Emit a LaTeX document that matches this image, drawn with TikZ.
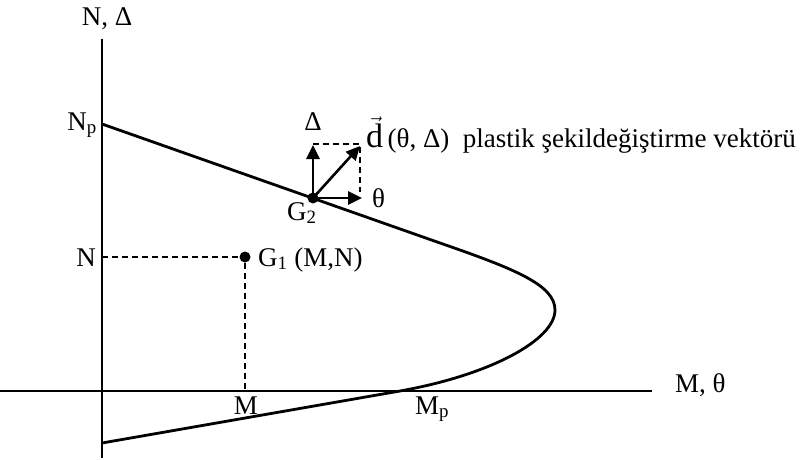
\documentclass[tikz,border=0pt]{standalone}
\usepackage{fontspec}
\setmainfont{Liberation Serif}
\usetikzlibrary{arrows.meta}

\begin{document}
\begin{tikzpicture}[x=1pt, y=-1pt,
    axis/.style={line width=1.1pt},
    curveLine/.style={line width=2.8pt, line join=round},
    guide/.style={line width=1.4pt, dash pattern=on 6pt off 4pt},
    vecArrow/.style={line width=2.6pt, -{Triangle[length=14pt, width=13pt]}},
    dot/.style={circle, fill=black, inner sep=0pt, minimum size=11pt},
    lbl/.style={font=\fontsize{27}{31}\selectfont, inner sep=0pt},
]
\useasboundingbox (0,0) rectangle (812,460);

% axes
\coordinate (yTop) at (102,39);
\coordinate (yBot) at (102,458);
\coordinate (xLeft) at (0,391);
\coordinate (xRight) at (652,391);
\draw[axis] (yBot) -- (yTop);
\draw[axis] (xLeft) -- (xRight);
\node[lbl, anchor=base] (nAxis) at (107,26) {N, Δ};
\node[lbl, anchor=base west] (mAxis) at (675,392) {M, θ};

% interaction curve
\coordinate (Np) at (102,124);
\coordinate (bendUp) at (440,243);
\coordinate (tip) at (555,310);
\coordinate (Mp) at (400,391);
\coordinate (lowEnd) at (102,443);
\draw[curveLine] (Np) -- (bendUp)
    .. controls (515,269) and (555,285) .. (tip)
    .. controls (555,340) and (490,375) .. (Mp) -- (lowEnd);
\node[lbl, anchor=base east] (npLabel) at (97,130) {N\textsubscript{p}};
\node[lbl, anchor=base west] (mpLabel) at (415,414) {M\textsubscript{p}};

% point G1
\node[dot] (G1) at (245,257) {};
\coordinate (nTick) at (102,257);
\coordinate (mTick) at (245,391);
\draw[guide] (nTick) -- (G1);
\draw[guide] (G1) -- (mTick);
\node[lbl, anchor=base east] (nLabel) at (96,266) {N};
\node[lbl, anchor=base] (mLabel) at (246,414) {M};
\node[lbl, anchor=base west] (g1Label) at (258,266) {G\textsubscript{1} (M,N)};

% point G2 and vector
\node[dot] (G2) at (313,198) {};
\coordinate (deltaEnd) at (313,145);
\coordinate (thetaEnd) at (362,198);
\coordinate (dEnd) at (360,146);
\coordinate (boxCorner) at (360,144);
\coordinate (boxLow) at (360,192);
\draw[guide] (deltaEnd |- boxCorner) -- (boxCorner) -- (boxLow);
\draw[vecArrow] (G2.center) -- (deltaEnd);
\draw[vecArrow] (G2.center) -- (thetaEnd);
\draw[vecArrow] (G2.center) -- (dEnd);
\node[lbl, anchor=base] (deltaLabel) at (313,130) {Δ};
\node[lbl, anchor=base west] (thetaLabel) at (372,207) {θ};
\node[lbl, anchor=base west] (g2Label) at (287,220) {G\textsubscript{2}};
\node[lbl, anchor=base west] (dLabel) at (366,147)
    {{\fontsize{34}{38}\selectfont$\vec{\mbox{d}}$}\,(θ, Δ)\ \ plastik şekildeğiştirme vektörü};
\end{tikzpicture}
\end{document}
